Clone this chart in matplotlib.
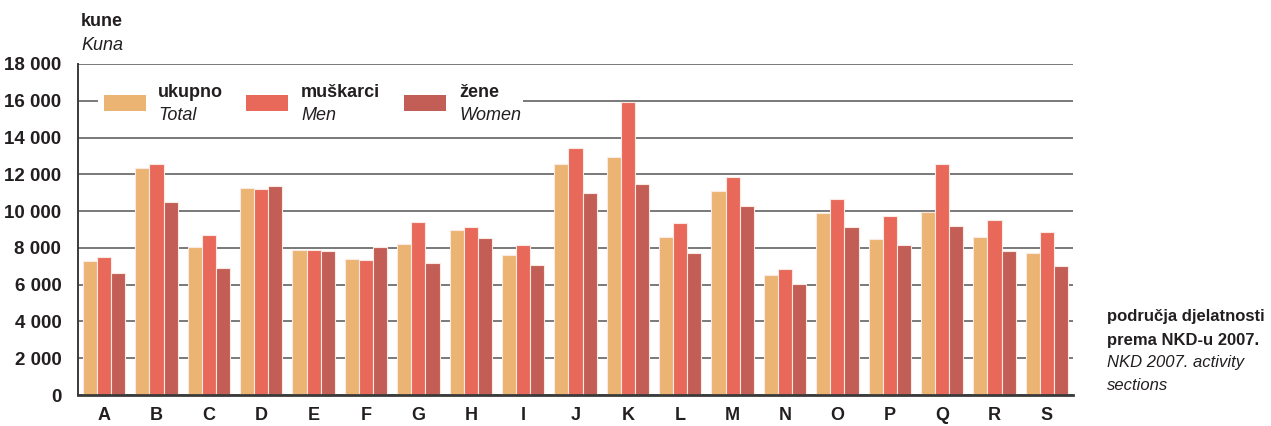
import numpy as np
import matplotlib.pyplot as plt
from matplotlib.patches import Rectangle

plt.rcParams['font.family'] = ['Liberation Sans', 'DejaVu Sans']

# Data
sections = ['A', 'B', 'C', 'D', 'E', 'F', 'G', 'H', 'I', 'J',
            'K', 'L', 'M', 'N', 'O', 'P', 'Q', 'R', 'S']
total = [7260, 12340, 8040, 11260, 7860, 7370, 8200, 8980, 7590, 12570,
         12940, 8580, 11110, 6520, 9920, 8490, 9970, 8580, 7710]
men = [7480, 12570, 8690, 11220, 7860, 7320, 9390, 9110, 8170, 13440,
       15940, 9380, 11850, 6870, 10640, 9720, 12570, 9500, 8840]
women = [6610, 10480, 6880, 11370, 7810, 8060, 7170, 8560, 7060, 11000,
         11470, 7700, 10300, 6030, 9110, 8130, 9210, 7820, 7010]

series_hr = ['ukupno', 'muškarci', 'žene']
series_en = ['Total', 'Men', 'Women']
colors = ['#ebb472', '#e8685a', '#c25e55']
yticks = np.arange(0, 18001, 2000)

TXT = '#231f20'

fig = plt.figure(figsize=(12.71, 4.26), dpi=100)
W, H = 1271, 426
ax = fig.add_axes([78 / W, 1 - 395 / H, (1073 - 78) / W, (395 - 64) / H])

x = np.arange(len(sections))
bw = 0.27
for i, vals in enumerate([total, men, women]):
    ax.bar(x + (i - 1) * bw, vals, width=bw, color=colors[i],
           edgecolor='#fbe9e4', linewidth=0.8, zorder=3)

ax.set_xlim(-0.5, 18.5)
ax.set_ylim(0, 18000)
ax.set_yticks(yticks)
ax.set_yticklabels([f"{v:,}".replace(',', ' ') for v in yticks],
                   fontsize=13.5, fontweight='bold', color=TXT)
ax.set_xticks(x)
ax.set_xticklabels(sections, fontsize=13, fontweight='bold', color=TXT)
ax.tick_params(length=0)
ax.tick_params(axis='x', pad=9)
ax.tick_params(axis='y', pad=12)
ax.grid(axis='y', color='#6e6e6e', linewidth=1.3, zorder=0)
for s in ['top', 'right']:
    ax.spines[s].set_visible(False)
ax.spines['left'].set_color('#3a3a3a')
ax.spines['left'].set_linewidth(1.4)
ax.spines['bottom'].set_color('#3a3a3a')
ax.spines['bottom'].set_linewidth(2)
ax.spines['bottom'].set_zorder(4)


def fx(px):
    return px / W


def fy(py):
    return 1 - py / H


# legend drawn by hand (two-line labels: bold Croatian + italic English)
fig.patches.append(Rectangle((fx(98), fy(113)), fx(523) - fx(98), fy(88) - fy(113),
                             transform=fig.transFigure, facecolor='white',
                             edgecolor='none', zorder=5))
patch_x = [104, 246, 404]
text_x = [158, 301, 459]
for i in range(3):
    fig.patches.append(Rectangle((fx(patch_x[i]), fy(110.5)), fx(42), fy(95) - fy(110.5),
                                 transform=fig.transFigure, facecolor=colors[i],
                                 edgecolor='none', zorder=6))
    fig.text(fx(text_x[i]), fy(93), series_hr[i], fontsize=13, fontweight='bold',
             color=TXT, va='center', ha='left', zorder=7)
    fig.text(fx(text_x[i]), fy(116), series_en[i], fontsize=13, style='italic',
             color=TXT, va='center', ha='left', zorder=7)

# axis titles
fig.text(fx(81), fy(22), 'kune', fontsize=13, fontweight='bold', color=TXT, va='center')
fig.text(fx(81), fy(46), 'Kuna', fontsize=13, style='italic', color=TXT, va='center')

fig.text(fx(1107), fy(316), 'područja djelatnosti', fontsize=12, fontweight='bold',
         color=TXT, va='center')
fig.text(fx(1107), fy(340), 'prema NKD-u 2007.', fontsize=12, fontweight='bold',
         color=TXT, va='center')
fig.text(fx(1107), fy(363), 'NKD 2007. activity', fontsize=12, style='italic',
         color=TXT, va='center')
fig.text(fx(1107), fy(386), 'sections', fontsize=12, style='italic',
         color=TXT, va='center')

fig.savefig('out.png', dpi=100)
